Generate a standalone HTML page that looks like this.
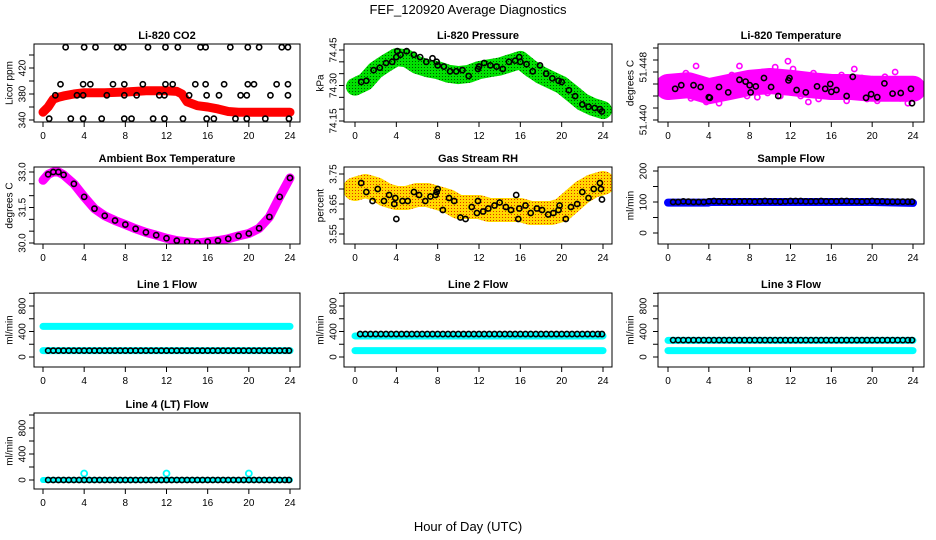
<!DOCTYPE html>
<html><head><meta charset="utf-8"><style>
body{margin:0;background:#fff;}
svg{display:block;font-family:"Liberation Sans",sans-serif;}
</style></head><body>
<svg id="chart" width="936" height="540" viewBox="0 0 936 540" xmlns="http://www.w3.org/2000/svg">
<defs>
<pattern id="gpat" width="3" height="3" patternUnits="userSpaceOnUse"><rect width="3" height="3" fill="#00e000"/><rect x="1" y="1" width="1" height="1" fill="#005500"/></pattern>
<pattern id="ypat" width="3" height="3" patternUnits="userSpaceOnUse"><rect width="3" height="3" fill="#ffd800"/><rect x="1" y="1" width="1" height="1" fill="#e03000"/></pattern>
</defs>
<text x="468" y="14" font-size="13" text-anchor="middle">FEF_120920  Average Diagnostics</text>
<text x="468" y="531" font-size="13" text-anchor="middle">Hour of Day (UTC)</text>
</svg>
<script>
// ---- data ----
const xTicks=[0,4,8,12,16,20,24];
const co2BandX=[0,0.5,1,1.5,2,3,4,6,8,10,12,13,13.5,14,15,16,17,18,19,20,22,24];
const co2BandY=[352,360,372,375,377,380,382,382,383,385,385,384,380,368,362,360,357,353,352,352,352,352];
const co2DotX=[2.2,4.0,5.1,7.2,7.8,10.2,11.9,13.1,15.3,15.8,18.2,19.9,21.0,23.2,23.8, 1.7,3.9,4.6,6.8,7.9,9.7,11.9,12.6,14.8,15.8,17.6,19.9,20.5,22.7,23.8, 1.2,3.3,3.9,6.2,7.9,9.1,11.3,11.8,14.2,15.9,17.1,19.2,19.8,22.1,23.8, 0.6,2.7,3.9,5.7,7.9,8.6,10.7,11.8,13.6,15.9,16.6,18.7,19.8,21.6,23.9];
const co2DotY=[452,452,452,452,452,452,452,452,452,452,452,452,452,452,452, 395,395,395,395,395,395,395,395,395,395,395,395,395,395,395, 378,378,378,378,378,378,378,378,378,378,378,378,378,378,378, 342,342,342,342,342,342,342,342,342,342,342,342,342,342,342];
const presBandX=[0,1,2,3,4,5,6,7,8,9,10,11,12,13,14,15,16,17,18,19,20,21,22,23,24];
const presBandY=[74.295,74.316,74.365,74.394,74.42,74.415,74.387,74.373,74.365,74.35,74.344,74.349,74.365,74.373,74.38,74.394,74.408,74.373,74.344,74.323,74.302,74.267,74.231,74.21,74.196];
const presDotX=[0.6,1.1,1.8,2.4,3.0,3.6,4.0,4.1,4.4,5.0,5.7,6.3,6.9,7.5,7.9,8.0,8.6,9.2,9.8,10.4,11.0,11.9,12.0,12.5,13.1,13.7,14.3,14.9,15.5,15.9,16.0,16.6,17.2,17.9,18.5,19.1,19.7,20.0,20.7,21.3,22.0,22.6,23.2,23.7,23.9];
const presDotY=[74.315,74.32,74.365,74.375,74.395,74.40,74.42,74.445,74.43,74.445,74.43,74.42,74.40,74.415,74.40,74.385,74.38,74.36,74.36,74.365,74.34,74.37,74.38,74.395,74.385,74.38,74.37,74.40,74.405,74.42,74.40,74.39,74.36,74.385,74.35,74.33,74.32,74.315,74.28,74.255,74.22,74.21,74.205,74.20,74.19];
const tempTrendX=[0,2,4,6,8,10,12,14,16,18,20,22,24];
const tempTrendY=[51.4455,51.4458,51.4448,51.4455,51.4462,51.4465,51.4462,51.4458,51.4455,51.4455,51.4452,51.4452,51.4452];
const tempVals=[51.4455,51.4440,51.4462,51.4450,51.4470,51.4445,51.4458,51.4478,51.4450,51.4436,51.4465,51.4490,51.4452,51.4442,51.4460,51.4430,51.4448,
51.4438,51.4452,51.4445,51.4428,51.4450,51.4440,51.4465,51.4458,51.4475,51.4445,51.4468,51.4490,51.4455,51.4470,51.4440,51.4462,
51.4475,51.4450,51.4438,51.4465,51.4480,51.4458,51.4445,51.4470,51.4460,51.4488,51.4452,51.4440,51.4478,51.4465,51.4498,51.4470,
51.4485,51.4455,51.4462,51.4440,51.4472,51.4450,51.4430,51.4460,51.4478,51.4448,51.4435,51.4465,51.4452,51.4442,51.4470,51.4455,
51.4440,51.4462,51.4450,51.4475,51.4445,51.4432,51.4468,51.4458,51.4485,51.4448,51.4440,51.4470,51.4452,51.4435,51.4460,51.4442,
51.4450,51.4432,51.4465,51.4445,51.4472,51.4455,51.4438,51.4460,51.4480,51.4450,51.4436,51.4465,51.4445,51.4428,51.4455,51.4448];
const tempDotX=[0.7,1.3,2.5,3.2,4.0,4.1,5.0,5.9,7.0,7.6,8.0,8.1,8.6,9.4,10.1,10.8,11.8,11.9,12.6,13.5,14.6,15.4,15.9,16.0,16.5,17.5,18.1,19.4,19.9,20.5,21.2,22.0,22.8,23.8,23.9];
const tempDotY=[51.4452,51.4458,51.4458,51.4455,51.4438,51.4437,51.4455,51.4446,51.4467,51.4464,51.4458,51.4446,51.4456,51.4470,51.4455,51.4440,51.4466,51.4470,51.4450,51.4446,51.4456,51.4452,51.4460,51.4447,51.4450,51.4440,51.4472,51.4437,51.4443,51.4438,51.4461,51.4444,51.4445,51.4452,51.4428];
const ambX=[0,0.5,1,1.5,2,3,4,5,6,7,8,9,10,11,12,13,14,15,16,17,18,19,20,21,22,23,24];
const ambY=[32.65,32.9,33.0,33.0,32.88,32.5,31.95,31.45,31.15,30.95,30.78,30.6,30.45,30.33,30.2,30.1,30.05,30.0,30.05,30.1,30.18,30.3,30.4,30.62,31.1,31.95,32.75];
const rhBandX=[0,1,2,3,4,5,6,7,8,9,10,11,12,13,14,15,16,17,18,19,20,21,22,23,24];
const rhBandY=[3.70,3.71,3.70,3.68,3.67,3.67,3.68,3.68,3.67,3.66,3.64,3.64,3.64,3.63,3.63,3.63,3.63,3.62,3.62,3.62,3.63,3.66,3.69,3.71,3.72];
const rhDotX=[0.6,1.1,1.7,2.2,2.8,3.3,3.8,3.9,4.0,4.6,5.1,5.7,6.2,6.8,7.3,7.8,7.9,8.0,8.5,9.1,9.6,10.2,10.7,11.3,11.8,11.9,12.4,12.9,13.5,14.0,14.6,15.1,15.6,15.8,15.9,16.5,17.0,17.6,18.1,18.7,19.2,19.7,19.8,20.4,20.9,21.5,22.0,22.6,23.1,23.7,23.8,23.9];
const rhDotY=[3.72,3.69,3.66,3.70,3.66,3.68,3.65,3.67,3.60,3.66,3.66,3.69,3.68,3.66,3.675,3.68,3.69,3.70,3.63,3.67,3.66,3.605,3.60,3.64,3.62,3.66,3.625,3.635,3.645,3.655,3.64,3.63,3.68,3.60,3.635,3.645,3.62,3.635,3.63,3.615,3.62,3.63,3.645,3.60,3.64,3.65,3.69,3.67,3.70,3.72,3.70,3.665];
const flowHours=[0.5,1,1.5,2,2.5,3,3.5,4,4.5,5,5.5,6,6.5,7,7.5,8,8.5,9,9.5,10,10.5,11,11.5,12,12.5,13,13.5,14,14.5,15,15.5,16,16.5,17,17.5,18,18.5,19,19.5,20,20.5,21,21.5,22,22.5,23,23.5,23.9];
const sampleBlack=[100,100,102,101,100,100,100,102,103,102,102,101,101,102,102,102,101,102,103,102,102,101,102,103,103,103,102,102,102,103,102,102,102,103,103,102,102,101,102,103,102,102,101,101,101,101,101,101];
const bandXs=[0,4,4.05,8,12,12.05,16,20,20.05,24];
const sampleBand=[98,98,100,100,100,100,100,100,100,97];
const l1Upper=[480,480,480,480,480,480,480,480,480,480];
const l1Lower=[100,100,100,100,100,100,100,100,100,100];
const l1Black=100;
const l2Upper=[330,330,330,330,330,330,330,330,330,330];
const l2Lower=[100,100,100,100,100,100,100,100,100,100];
const l2Black=360;
const l3Upper=[260,260,260,260,260,260,260,260,260,260];
const l3Lower=[100,100,100,100,100,100,100,100,100,100];
const l3Black=265;
const l4Band=[0,0,0,0,0,0,0,0,0,0];
const l4Black=0;
const l4SpikeX=[4,12,20];
const l4SpikeY=[100,100,100];

// ---- layout ----
const NS='http://www.w3.org/2000/svg';
const svg=document.getElementById('chart');
const cols=[{bx0:34,bx1:300,h0:43,h24:290,yl:10,tl:23},{bx0:344,bx1:612,h0:355,h24:603,yl:321,tl:334},{bx0:658,bx1:924,h0:668,h24:913,yl:631,tl:644}];
const rows=[{by0:44,by1:122},{by0:167,by1:244},{by0:293,by1:367},{by0:413,by1:489}];
function mk(tag,attrs,parent){const e=document.createElementNS(NS,tag);for(const k in attrs)e.setAttribute(k,attrs[k]);(parent||svg).appendChild(e);return e;}
function panel(ci,ri,title,ylab,v0,p0,v1,p1,ticks,labels,name){
  const c=cols[ci],r=rows[ri];
  const g=mk('g',{});
  
  
  const xs=h=>c.h0+(c.h24-c.h0)*h/24;
  const ys=v=>p0+(v-v0)*(p1-p0)/(v1-v0);
  const t=mk('text',{x:(c.bx0+c.bx1)/2,y:r.by0-5,'font-size':11,'font-weight':'bold','text-anchor':'middle'},g);
  t.textContent=title;
  
  
  const yl=mk('text',{x:c.yl,y:(r.by0+r.by1)/2,'font-size':10,'text-anchor':'middle',transform:`rotate(-90 ${c.yl} ${(r.by0+r.by1)/2})`,'dominant-baseline':'central'},g);
  yl.textContent=ylab;
  
  
  ticks.forEach(v=>{const y=ys(v);mk('line',{x1:c.bx0-5,x2:c.bx0,y1:y,y2:y,stroke:'#000'},g);});
  labels.forEach(([v,s])=>{const y=ys(v);const tx=mk('text',{x:c.tl,y:y,'font-size':10,'text-anchor':'middle','dominant-baseline':'central',transform:`rotate(-90 ${c.tl} ${y})`},g);tx.textContent=s;
    
    });
  xTicks.forEach(h=>{const x=xs(h);mk('line',{x1:x,x2:x,y1:r.by1,y2:r.by1+5,stroke:'#000'},g);
    const tx=mk('text',{x:x,y:r.by1+17,'font-size':10,'text-anchor':'middle'},g);tx.textContent=h;
    
    });
  const clip='clip'+ci+ri;
  const cp=mk('clipPath',{id:clip},g);mk('rect',{x:c.bx0,y:r.by0,width:c.bx1-c.bx0,height:r.by1-r.by0},cp);
  const plot=mk('g',{'clip-path':`url(#${clip})`},g);
  mk('rect',{x:c.bx0,y:r.by0,width:c.bx1-c.bx0,height:r.by1-r.by0,fill:'none',stroke:'#000','stroke-width':1},g);
  return {xs,ys,plot};
}
function band(P,X,Y,stroke,w,name){
  const pl=mk('polyline',{points:X.map((h,i)=>P.xs(h)+','+P.ys(Y[i])).join(' '),fill:'none',stroke:stroke,'stroke-width':w,'stroke-linecap':'round','stroke-linejoin':'round'},P.plot);
  
  
}
function dots(P,X,Y,color,r,sw,name){
  X.forEach((h,i)=>{const c=mk('circle',{cx:P.xs(h),cy:P.ys(Y[i]),r:r,fill:'none',stroke:color,'stroke-width':sw},P.plot);
    
    });
}
// CO2
let P=panel(0,0,'Li-820 CO2','Licor ppm',340,120,440,55,[340,360,380,400,420,440],[[340,'340'],[380,'380'],[420,'420']],'co2');
band(P,co2BandX,co2BandY,'#f00',9,'co2-band');
dots(P,co2DotX,co2DotY,'#000',2.6,1.6,'co2-point');
// Pressure
P=panel(1,0,'Li-820 Pressure','kPa',74.15,121,74.45,50,[74.15,74.20,74.25,74.30,74.35,74.40,74.45],[[74.15,'74.15'],[74.30,'74.30'],[74.45,'74.45']],'pressure');
band(P,presBandX,presBandY,'url(#gpat)',18,'pressure-band');
dots(P,presDotX,presDotY,'#000',2.6,1.6,'pressure-point');
// Temperature
P=panel(2,0,'Li-820 Temperature','degrees C',51.440,120,51.452,48,[51.440,51.442,51.444,51.446,51.448,51.450,51.452],[[51.440,'51.440'],[51.4488,'51.448']],'li820-temp');
band(P,tempTrendX,tempTrendY,'#ff00ff',26,'temp-band');
dots(P,tempVals.map((v,i)=>i*0.25),tempVals,'#ff00ff',2.6,1.6,'temp-point');
dots(P,tempDotX,tempDotY,'#000',2.6,1.6,'temp-avg-point');
// Ambient
P=panel(0,1,'Ambient Box Temperature','degrees C',30.0,243,33.0,172,[30,30.5,31,31.5,32,32.5,33],[[30,'30.0'],[31.5,'31.5'],[33,'33.0']],'ambient');
band(P,ambX,ambY,'#ff00ff',9,'ambient-band');
dots(P,ambX.slice(1),ambY.slice(1),'#000',2.6,1.6,'ambient-point');
// RH
P=panel(1,1,'Gas Stream RH','percent',3.55,234,3.75,174,[3.55,3.60,3.65,3.70,3.75],[[3.55,'3.55'],[3.65,'3.65'],[3.75,'3.75']],'rh');
band(P,rhBandX,rhBandY,'url(#ypat)',24,'rh-band');
dots(P,rhDotX,rhDotY,'#000',2.6,1.6,'rh-point');
// Sample flow
P=panel(2,1,'Sample Flow','ml/min',0,233,200,171,[0,50,100,150,200],[[0,'0'],[100,'100'],[200,'200']],'sample-flow');
band(P,bandXs,sampleBand,'#0000ff',8,'sample-band');
dots(P,flowHours,sampleBlack,'#000',2.6,1.6,'sample-point');
// line flows
const flowT=[0,200,400,600,800,1000],flowL=[[0,'0'],[400,'400'],[800,'800']];
P=panel(0,2,'Line 1 Flow','ml/min',0,357,800,306,flowT,flowL,'line1');
band(P,bandXs,l1Upper,'#00ffff',7,'line1-upper');band(P,bandXs,l1Lower,'#00ffff',7,'line1-lower');
dots(P,flowHours,flowHours.map(()=>l1Black),'#000',2.6,1.6,'line1-point');
P=panel(1,2,'Line 2 Flow','ml/min',0,357,800,306,flowT,flowL,'line2');
band(P,bandXs,l2Upper,'#00ffff',7,'line2-upper');band(P,bandXs,l2Lower,'#00ffff',7,'line2-lower');
dots(P,flowHours,flowHours.map(()=>l2Black),'#000',2.6,1.6,'line2-point');
P=panel(2,2,'Line 3 Flow','ml/min',0,357,800,306,flowT,flowL,'line3');
band(P,bandXs,l3Upper,'#00ffff',7,'line3-upper');band(P,bandXs,l3Lower,'#00ffff',7,'line3-lower');
dots(P,flowHours,flowHours.map(()=>l3Black),'#000',2.6,1.6,'line3-point');
P=panel(0,3,'Line 4 (LT) Flow','ml/min',0,480,800,428,flowT,flowL,'line4');
band(P,bandXs,l4Band,'#00ffff',6,'line4-band');
dots(P,l4SpikeX,l4SpikeY,'#00ffff',3,1.8,'line4-spike');
dots(P,flowHours,flowHours.map(()=>l4Black),'#000',2.6,1.6,'line4-point');
</script>
</body></html>
